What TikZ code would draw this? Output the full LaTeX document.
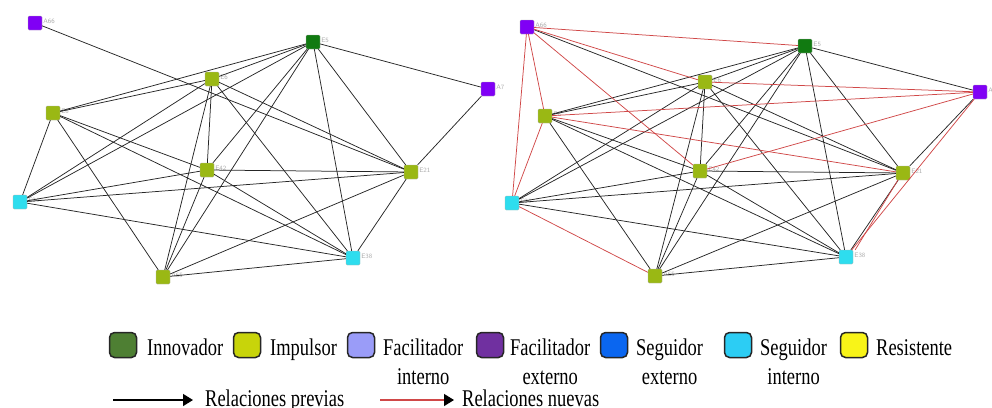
\documentclass[tikz,border=0pt]{standalone}
\usepackage{fontspec}
\setmainfont{Liberation Serif}
\newfontfamily\legfont[FakeStretch=0.77]{Liberation Serif}
\usetikzlibrary{arrows.meta}
\definecolor{cinn}{HTML}{117A11}
\definecolor{cimp}{HTML}{9AB814}
\definecolor{cfext}{HTML}{8000F5}
\definecolor{csint}{HTML}{2EDDEE}
\definecolor{lginn}{HTML}{4E7F33}
\definecolor{lgimp}{HTML}{C8D40A}
\definecolor{lgfint}{HTML}{9A9CF8}
\definecolor{lgfext}{HTML}{7030A0}
\definecolor{lgsext}{HTML}{0A66F0}
\definecolor{lgsint}{HTML}{2CCDF4}
\definecolor{lgres}{HTML}{F8F418}
\definecolor{newred}{HTML}{D04848}
\tikzset{
  sq/.style={rectangle, minimum size=14pt, inner sep=0pt, rounded corners=1.2pt, draw=black!30, line width=0.3pt},
  lab/.style={font=\fontsize{6.5}{6.5}\selectfont\sffamily, text=gray!65, inner sep=1pt, yshift=2pt},
  ed/.style={line width=0.75pt, black!85},
  ne/.style={line width=0.75pt, newred},
  lg/.style={rectangle, rounded corners=5pt, draw=black!85, line width=1.5pt, minimum width=27pt, minimum height=25pt, inner sep=0pt},
  lt/.style={font=\legfont\fontsize{24}{30}\selectfont, anchor=base west, inner sep=0pt},
  lt2/.style={font=\legfont\fontsize{24}{30}\selectfont, anchor=base, inner sep=0pt},
}
\begin{document}
\begin{tikzpicture}[x=1pt,y=-1pt]
\useasboundingbox (0,0) rectangle (992,407);
% ---------- left network ----------
\node[sq, fill=cfext, label={[lab]right:A66}] (LA66) at (35,23) {};
\node[sq, fill=cinn, label={[lab]right:E5}] (LE5) at (313,42) {};
\node[sq, fill=cimp, label={[lab]right:E6}] (LE6) at (212,79) {};
\node[sq, fill=cimp, label={[lab]right:E8}] (LE8) at (53,113) {};
\node[sq, fill=cfext, label={[lab]right:A7}] (LA7) at (488,89) {};
\node[sq, fill=cimp, label={[lab]right:E42}] (LE42) at (207,170) {};
\node[sq, fill=cimp, label={[lab]right:E21}] (LE21) at (411,172) {};
\node[sq, fill=csint, label={[lab]right:E24}] (LE24) at (20,202) {};
\node[sq, fill=csint, label={[lab]right:E38}] (LE38) at (353,258) {};
\node[sq, fill=cimp, label={[lab]right:A65}] (LA65) at (163,277) {};
\foreach \a/\b in {A66/E21, E5/A7, A7/E21, E5/E8, E5/E6, E5/E24, E5/E42, E5/A65, E5/E38, E5/E21,
  E6/E8, E6/E24, E6/E42, E6/A65, E6/E38, E6/E21, E8/E24, E8/A65, E8/E42, E8/E38,
  E42/E21, E42/E24, E42/A65, E42/E38, E24/E21, E24/E38, A65/E21, A65/E38, E21/E38}
  \draw[ed] (L\a) -- (L\b);
% ---------- right network ----------
\node[sq, fill=cfext, label={[lab]right:A66}] (RA66) at (527,27) {};
\node[sq, fill=cinn, label={[lab]right:E5}] (RE5) at (805,46) {};
\node[sq, fill=cimp, label={[lab]right:E6}] (RE6) at (705,82) {};
\node[sq, fill=cimp, label={[lab]right:E8}] (RE8) at (545,116) {};
\node[sq, fill=cfext, label={[lab]right:A7}] (RA7) at (980,92) {};
\node[sq, fill=cimp, label={[lab]right:E42}] (RE42) at (700,171) {};
\node[sq, fill=cimp, label={[lab]right:E21}] (RE21) at (903,173) {};
\node[sq, fill=csint, label={[lab]right:E24}] (RE24) at (512,203) {};
\node[sq, fill=csint, label={[lab]right:E38}] (RE38) at (846,257) {};
\node[sq, fill=cimp, label={[lab]right:A65}] (RA65) at (655,276) {};
\foreach \a/\b in {A66/E21, E5/A7, A7/E21, E5/E8, E5/E6, E5/E24, E5/E42, E5/A65, E5/E38, E5/E21,
  E6/E8, E6/E24, E6/E42, E6/A65, E6/E38, E6/E21, E8/A65, E8/E42, E8/E38,
  E42/E21, E42/E24, E42/A65, E42/E38, E24/E21, E24/E38, A65/E21, A65/E38, E21/E38}
  \draw[ed] (R\a) -- (R\b);
\foreach \a/\b in {A66/E5, A66/E6, A66/E8, A66/E24, A66/E42, E6/A7, E8/A7, E42/A7, E38/A7,
  E8/E21, E8/E24, E24/A65}
  \draw[ne] (R\a) -- (R\b);
\draw[ne] ([xshift=2pt]RE21.south west) -- ([xshift=2pt]RE38.north east);
% ---------- legend ----------
\node[lg, fill=lginn] (k1) at (123,345) {};
\node[lt] (t1) at (147,355) {Innovador};
\node[lg, fill=lgimp] (k2) at (247,345) {};
\node[lt] (t2) at (270,355) {Impulsor};
\node[lg, fill=lgfint] (k3) at (361,345) {};
\node[lt] (t3) at (383,355) {Facilitador};
\node[lt2] (t3b) at ([yshift=-29pt]t3.base) {interno};
\node[lg, fill=lgfext] (k4) at (490,345) {};
\node[lt] (t4) at (510,355) {Facilitador};
\node[lt2] (t4b) at ([yshift=-29pt]t4.base) {externo};
\node[lg, fill=lgsext] (k5) at (614,345) {};
\node[lt] (t5) at (636,355) {Seguidor};
\node[lt2] (t5b) at ([yshift=-29pt]t5.base) {externo};
\node[lg, fill=lgsint] (k6) at (738,345) {};
\node[lt] (t6) at (760,355) {Seguidor};
\node[lt2] (t6b) at ([yshift=-29pt]t6.base) {interno};
\node[lg, fill=lgres] (k7) at (854,345) {};
\node[lt] (t7) at (876,355) {Resistente};
\coordinate (p1) at (113,400);
\coordinate (p2) at (193,400);
\draw[line width=1.4pt, -{Triangle[length=10pt,width=12pt]}] (p1) -- (p2);
\node[lt] (r1) at (205,406) {Relaciones previas};
\coordinate (q1) at (380,400);
\coordinate (q2) at (454,400);
\draw[line width=1.4pt, newred, -{Triangle[length=10pt,width=12pt,color=black]}] (q1) -- (q2);
\node[lt] (r2) at (462,406) {Relaciones nuevas};
\end{tikzpicture}
\end{document}
